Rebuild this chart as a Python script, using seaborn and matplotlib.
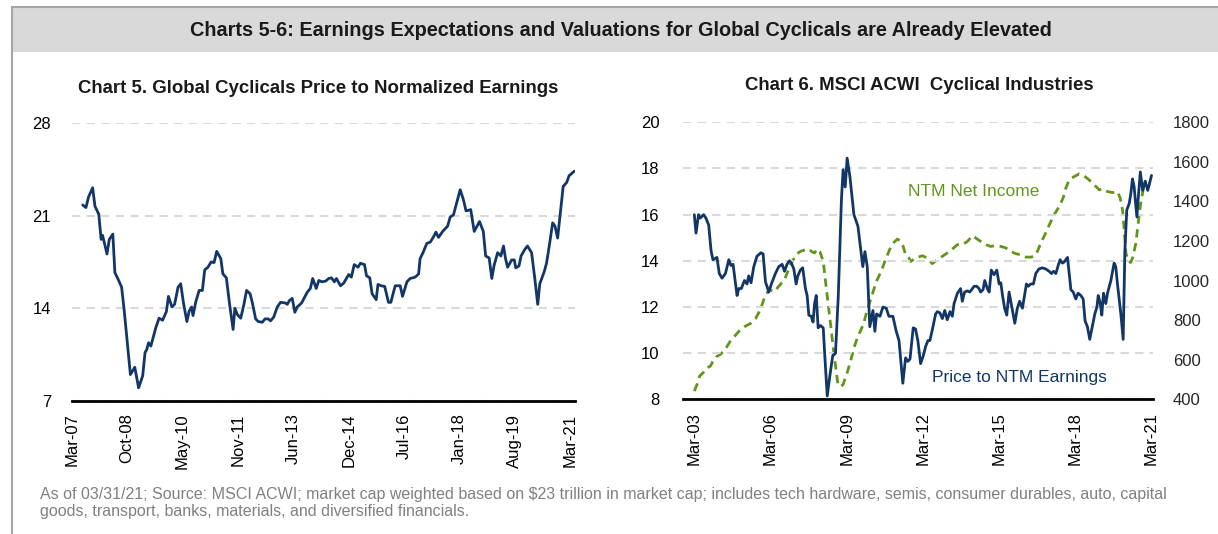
import numpy as np
import pandas as pd
import matplotlib
matplotlib.use("Agg")
import matplotlib.pyplot as plt
from matplotlib.patches import Rectangle
from matplotlib.lines import Line2D
import seaborn as sns

# ---- Chart 5: months since Mar-07, price to normalized earnings ----
c5_month = [0, 1.1, 2.0, 3.4, 4.2, 5.5, 6.3, 6.8, 8.3, 9.1,
            10.3, 11.0, 12.3, 13.3, 14.2, 15.3, 16.3, 17.0, 17.8, 19.1,
            20.5, 21.3, 21.9, 22.5, 23.3, 24.1, 25.0, 26.1, 27.3, 28.6,
            29.3, 30.5, 31.4, 32.6, 33.5, 34.4, 35.6, 36.4, 37.2, 37.7,
            38.6, 39.8, 40.9, 41.7, 42.8, 43.9, 44.9, 45.8, 47.2, 47.9,
            49.1, 50.2, 51.4, 52.0, 52.8, 54.0, 55.1, 56.0, 57.2, 58.0,
            59.1, 60.0, 61.4, 62.3, 63.4, 64.2, 65.3, 66.5, 67.6, 69.3,
            69.9, 70.7, 71.6, 72.5, 73.3, 74.8, 76.7, 77.8, 78.6, 79.8,
            80.7, 81.8, 83.0, 84.1, 85.0, 86.0, 86.7, 88.1, 89.2, 90.9,
            91.8, 92.8, 94.1, 94.9, 96.3, 97.0, 98.1, 98.9, 100.3, 100.9,
            102.0, 103.2, 104.5, 105.3, 106.8, 108.5, 109.3, 110.8, 111.9, 113.6,
            114.8, 115.3, 116.3, 117.6, 118.8, 119.9, 120.7, 121.6, 123.0, 124.7,
            125.6, 126.7, 127.8, 129.0, 130.1, 131.0, 132.6, 133.8, 135.6, 136.9,
            137.7, 138.9, 139.8, 140.6, 141.8, 142.9, 143.8, 144.5, 145.2, 146.6,
            147.5, 148.0, 149.1, 149.8, 151.1, 152.0, 153.4, 154.5, 155.5, 156.2,
            157.7, 158.5, 159.4, 160.6, 161.4, 162.3, 163.1, 164.2, 165.4, 166.2,
            168.0]
c5_pe = [21.8, 21.6, 22.4, 23.1, 21.7, 21.1, 19.2, 19.5, 18.1, 19.2,
         19.6, 16.7, 16.1, 15.6, 13.8, 11.3, 9.0, 9.25, 9.55, 8.0,
         8.9, 10.65, 10.9, 11.4, 11.15, 11.8, 12.55, 13.25, 13.1, 13.75,
         14.9, 14.1, 14.3, 15.6, 15.85, 14.45, 13.0, 13.8, 14.1, 13.45,
         14.45, 15.35, 15.35, 16.9, 17.1, 17.5, 17.45, 18.3, 17.75, 16.6,
         16.3, 14.3, 12.4, 14.0, 13.55, 13.25, 14.3, 15.35, 15.1, 14.4,
         13.2, 13.0, 12.95, 13.2, 13.2, 13.05, 13.35, 14.1, 14.45, 14.4,
         14.3, 14.6, 14.75, 13.7, 14.1, 14.4, 15.2, 15.5, 16.25, 15.5,
         16.1, 16.0, 16.05, 16.25, 16.3, 16.0, 16.25, 15.7, 15.9, 16.55,
         16.35, 17.3, 17.1, 17.4, 17.3, 16.45, 16.3, 15.1, 14.65, 15.8,
         15.7, 15.65, 14.45, 14.45, 15.7, 15.7, 14.9, 16.0, 16.25, 16.35,
         16.6, 17.75, 18.2, 18.9, 19.0, 19.4, 19.75, 19.35, 19.8, 20.2,
         20.9, 21.05, 21.95, 22.95, 22.2, 21.35, 21.45, 19.8, 20.55, 19.8,
         17.95, 17.8, 16.25, 17.25, 18.2, 17.95, 18.7, 17.75, 17.1, 17.65,
         17.65, 17.05, 17.2, 17.95, 18.45, 18.7, 18.2, 16.25, 14.3, 15.85,
         16.75, 17.4, 18.65, 20.45, 20.2, 19.3, 20.95, 23.2, 23.5, 24.0,
         24.35]
c5_labels = ["Mar-07", "Oct-08", "May-10", "Nov-11", "Jun-13",
             "Dec-14", "Jul-16", "Jan-18", "Aug-19", "Mar-21"]
c5_yticks = [7, 14, 21, 28]

# ---- Chart 6: months since Mar-03 ----
c6_pe_month = [0, 0.8, 2.0, 2.8, 4.4, 5.5, 6.8, 7.9, 8.8, 10.7,
               11.8, 13.1, 14.7, 16.3, 17.3, 18.3, 20.2, 21.0, 22.2, 23.7,
               24.9, 25.7, 26.8, 28.1, 29.6, 31.5, 32.5, 33.6, 35.2, 36.4,
               38.3, 39.9, 41.5, 42.6, 43.8, 44.9, 45.9, 47.0, 48.1, 48.9,
               50.1, 51.2, 52.5, 53.3, 54.1, 55.2, 56.1, 56.8, 57.6, 58.5,
               59.6, 60.9, 61.7, 62.8, 64.0, 65.4, 66.7, 68.0, 69.5, 70.3,
               71.3, 72.2, 73.5, 75.4, 77.3, 78.5, 79.6, 80.6, 81.7, 82.9,
               84.4, 85.3, 86.1, 87.7, 89.1, 90.7, 91.9, 93.8, 95.4, 96.7,
               98.5, 99.8, 100.9, 101.9, 103.4, 104.5, 105.6, 106.9, 108.2, 109.3,
               110.4, 111.3, 112.4, 114.0, 114.8, 116.0, 117.2, 118.3, 119.5, 120.8,
               121.9, 122.7, 124.3, 125.8, 126.6, 127.7, 129.0, 130.1, 131.0, 132.2,
               133.4, 134.5, 135.3, 136.4, 137.2, 138.4, 139.3, 140.3, 141.6, 142.9,
               144.0, 144.8, 145.6, 146.6, 147.6, 148.7, 149.5, 150.3, 151.4, 152.6,
               153.7, 155.0, 155.8, 156.9, 157.8, 158.9, 160.2, 161.3, 162.8, 164.4,
               166.0, 167.6, 168.7, 169.7, 170.8, 171.9, 172.8, 173.9, 174.7, 176.3,
               177.1, 177.9, 179.0, 180.2, 181.3, 182.6, 183.7, 184.6, 185.7, 186.8,
               188.1, 189.2, 190.2, 190.8, 191.7, 192.5, 193.3, 194.4, 195.2, 196.8,
               198.3, 199.1, 199.9, 201.5, 202.6, 203.4, 204.3, 205.5, 206.2, 207.0,
               207.8, 208.3, 209.1, 209.7, 210.7, 211.8, 213.0, 214.2, 214.9, 216.0]
c6_pe = [16.0, 15.2, 16.0, 15.85, 16.0, 15.85, 15.55, 14.45, 14.05, 14.15,
         13.45, 13.25, 13.45, 14.05, 13.8, 13.85, 12.5, 12.8, 12.8, 13.15,
         13.0, 13.35, 13.05, 13.75, 14.2, 14.35, 14.3, 13.1, 12.65, 13.0,
         13.45, 13.75, 13.85, 13.55, 13.85, 14.0, 13.9, 13.65, 13.0, 13.35,
         13.6, 13.7, 12.8, 12.5, 11.65, 11.6, 11.35, 12.15, 12.5, 11.1,
         11.2, 11.1, 9.8, 8.15, 9.0, 9.9, 10.0, 12.45, 16.65, 17.95,
         17.2, 18.45, 17.65, 16.0, 15.5, 14.6, 13.75, 14.4, 13.75, 11.15,
         11.85, 10.95, 11.7, 11.6, 12.0, 11.95, 11.6, 11.6, 10.95, 10.55,
         8.7, 9.8, 9.65, 9.75, 11.1, 11.05, 10.55, 9.55, 9.9, 10.3,
         10.55, 10.55, 11.0, 11.7, 11.8, 11.75, 11.5, 11.85, 11.45, 11.8,
         11.6, 12.15, 12.6, 12.8, 12.25, 12.65, 12.7, 12.65, 12.75, 12.9,
         12.9, 12.8, 12.65, 12.75, 13.15, 12.8, 12.65, 13.6, 13.4, 13.6,
         13.0, 13.05, 12.5, 11.95, 11.65, 12.65, 12.25, 11.85, 11.3, 11.95,
         12.25, 11.95, 12.4, 13.0, 12.9, 13.0, 13.0, 13.45, 13.65, 13.7,
         13.65, 13.55, 13.45, 13.55, 13.45, 13.8, 14.05, 13.9, 13.95, 14.15,
         13.45, 12.75, 12.65, 12.35, 12.6, 12.5, 12.35, 11.4, 11.15, 10.6,
         11.2, 11.7, 12.0, 12.5, 12.2, 11.65, 12.6, 12.15, 12.6, 13.15,
         13.9, 13.75, 13.0, 11.7, 10.6, 14.45, 16.2, 16.5, 16.9, 17.55,
         17.2, 16.65, 15.9, 16.7, 17.85, 17.05, 17.45, 17.05, 17.3, 17.7]
c6_ni_month = [0, 1.3, 2.5, 4.1, 6.0, 7.6, 8.8, 10.7, 12.3, 14.7,
               17.0, 19.4, 21.8, 24.1, 26.5, 28.9, 30.4, 31.5, 32.8, 35.2,
               36.7, 38.3, 39.4, 41.0, 42.6, 44.2, 46.2, 48.6, 50.1, 52.5,
               54.1, 55.7, 56.8, 58.0, 59.3, 60.9, 62.8, 64.3, 65.9, 67.8,
               69.1, 70.3, 72.2, 73.8, 75.4, 77.3, 78.8, 80.1, 81.7, 83.3,
               84.8, 86.4, 88.3, 90.3, 92.4, 94.3, 95.9, 97.1, 98.7, 99.8,
               101.4, 102.2, 104.5, 107.7, 110.1, 112.4, 114.8, 117.2, 119.5, 121.9,
               124.3, 126.6, 129.0, 131.4, 133.0, 135.3, 137.7, 140.0, 142.4, 144.8,
               147.2, 149.5, 151.9, 154.2, 156.6, 159.0, 160.5, 162.1, 163.7, 165.6,
               167.7, 170.0, 172.4, 174.2, 175.5, 177.1, 179.5, 181.8, 184.2, 186.5,
               188.9, 191.3, 192.8, 195.2, 197.6, 199.9, 201.2, 202.3, 203.1, 203.9,
               205.0, 206.2, 207.3, 208.6, 209.7, 211.0, 212.2, 213.3]
c6_ni = [442, 476, 518, 534, 560, 568, 593, 618, 627, 655,
         694, 724, 753, 770, 783, 808, 837, 862, 904, 955,
         950, 946, 966, 985, 1005, 1047, 1097, 1136, 1148, 1156,
         1160, 1145, 1140, 1160, 1148, 1097, 921, 787, 635, 481,
         464, 476, 534, 593, 660, 719, 753, 787, 854, 904,
         955, 1005, 1047, 1106, 1160, 1193, 1210, 1202, 1173, 1130,
         1114, 1097, 1114, 1126, 1114, 1086, 1106, 1123, 1140, 1160,
         1182, 1182, 1198, 1227, 1215, 1198, 1182, 1173, 1177, 1173,
         1165, 1148, 1136, 1131, 1119, 1119, 1123, 1148, 1190, 1232,
         1282, 1333, 1375, 1417, 1467, 1509, 1526, 1539, 1529, 1509,
         1484, 1459, 1464, 1450, 1445, 1450, 1417, 1358, 1257, 1140,
         1097, 1092, 1123, 1190, 1291, 1400, 1467, 1501]
c6_labels = ["Mar-03", "Mar-06", "Mar-09", "Mar-12", "Mar-15", "Mar-18", "Mar-21"]
c6_tick_month = [0, 36, 72, 108, 144, 180, 216]
c6_yticks = [8, 10, 12, 14, 16, 18, 20]
c6_y2ticks = [400, 600, 800, 1000, 1200, 1400, 1600, 1800]

NAVY = "#123766"
GREEN = "#62961a"
GRID = "#d9d9d9"

sns.set_style("white")
plt.rcParams["font.family"] = ["Liberation Sans", "DejaVu Sans"]

fig = plt.figure(figsize=(12.18, 5.34), dpi=100)

# frame + title band
fig.patches.append(Rectangle((0.0099, 0.9026), 0.99, 0.0824, transform=fig.transFigure,
                             facecolor="#d9d9d9", edgecolor="none", zorder=0))
fig.lines.append(Line2D([0.0099, 1.0], [0.987, 0.987], transform=fig.transFigure,
                        color="#a6a6a6", lw=1.5))
fig.lines.append(Line2D([0.0099, 0.0099], [0.0, 0.987], transform=fig.transFigure,
                        color="#a6a6a6", lw=1.5))
fig.text(0.5094, 0.9438, "Charts 5-6: Earnings Expectations and Valuations for Global Cyclicals are Already Elevated",
         ha="center", va="center", fontsize=14.3, fontweight="bold", color="#1a1a1a")


def style_axis(ax):
    for s in ["top", "right", "left"]:
        ax.spines[s].set_visible(False)
    ax.spines["bottom"].set_color("black")
    ax.spines["bottom"].set_linewidth(2)
    ax.yaxis.grid(True, color=GRID, linestyle=(0, (4, 3)), linewidth=1.5)
    ax.xaxis.grid(False)
    ax.tick_params(length=0, labelsize=12, colors="black")
    ax.set_xlabel("")
    ax.set_ylabel("")


# ---- Chart 5 ----
ax5 = fig.add_axes([0.059, 0.249, 0.413, 0.521])
df5 = pd.DataFrame({"month": c5_month, "pe": c5_pe})
sns.lineplot(data=df5, x="month", y="pe", ax=ax5, color=NAVY, linewidth=2, sort=False)
ax5.set_xlim(-3.7, 168.2)
ax5.set_ylim(7, 28)
ax5.set_yticks(c5_yticks)
ax5.set_xticks(np.linspace(-3.7, 166.6, len(c5_labels)))
ax5.set_xticklabels(c5_labels, rotation=90)
style_axis(ax5)
ax5.tick_params(axis="y", pad=15)
ax5.tick_params(axis="x", pad=9)
fig.text(0.261, 0.835, "Chart 5. Global Cyclicals Price to Normalized Earnings",
         ha="center", va="center", fontsize=13.4, fontweight="bold", color="#1a1a1a")

# ---- Chart 6 ----
ax6 = fig.add_axes([0.561, 0.252, 0.386, 0.519])
ax6b = ax6.twinx()
df6a = pd.DataFrame({"month": c6_pe_month, "pe": c6_pe})
df6b = pd.DataFrame({"month": c6_ni_month, "ni": c6_ni})
sns.lineplot(data=df6b, x="month", y="ni", ax=ax6b, color=GREEN, linewidth=2,
             linestyle=(0, (3, 2)), sort=False)
sns.lineplot(data=df6a, x="month", y="pe", ax=ax6, color=NAVY, linewidth=2, sort=False)
ax6.set_zorder(ax6b.get_zorder() + 1)
ax6.patch.set_visible(False)
ax6.set_xlim(-5.2, 216.9)
ax6.set_ylim(8, 20)
ax6.set_yticks(c6_yticks)
ax6.set_xticks(c6_tick_month)
ax6.set_xticklabels(c6_labels, rotation=90)
style_axis(ax6)
ax6.tick_params(axis="y", pad=17)
ax6.tick_params(axis="x", pad=9)
ax6b.set_ylim(400, 1800)
ax6b.set_yticks(c6_y2ticks)
for s in ["top", "right", "left", "bottom"]:
    ax6b.spines[s].set_visible(False)
ax6b.grid(False)
ax6b.tick_params(length=0, labelsize=12, pad=14)
ax6b.set_ylabel("")
ax6.text(0.477, 0.752, "NTM Net Income", transform=ax6.transAxes, color=GREEN,
         fontsize=12.5, va="center", ha="left")
ax6.text(0.528, 0.08, "Price to NTM Earnings", transform=ax6.transAxes, color=NAVY,
         fontsize=12.5, va="center", ha="left")
fig.text(0.7545, 0.839, "Chart 6. MSCI ACWI  Cyclical Industries",
         ha="center", va="center", fontsize=13.4, fontweight="bold", color="#1a1a1a")

# footer
fig.text(0.0328, 0.0749, "As of 03/31/21; Source: MSCI ACWI; market cap weighted based on \\$23 trillion in market cap; "
         "includes tech hardware, semis, consumer durables, auto, capital",
         ha="left", va="center", fontsize=11.5, color="#808080")
fig.text(0.0328, 0.0412, "goods, transport, banks, materials, and diversified financials.",
         ha="left", va="center", fontsize=11.5, color="#808080")

fig.savefig("out.png", dpi=100)
